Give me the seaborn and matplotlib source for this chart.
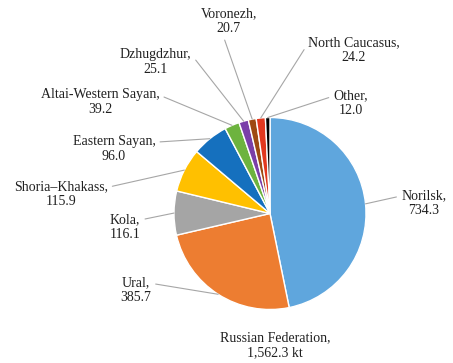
import numpy as np
import matplotlib
matplotlib.use("Agg")
import matplotlib.pyplot as plt
import seaborn as sns

# --- data (kt), clockwise from 12 o'clock ---
regions = ["Norilsk", "Ural", "Kola", "Shoria\u2013Khakass", "Eastern Sayan",
           "Altai-Western Sayan", "Dzhugdzhur", "Voronezh", "North Caucasus", "Other"]
values = [734.3, 385.7, 116.1, 115.9, 96.0, 39.2, 25.1, 20.7, 24.2, 12.0]
total_label = "Russian Federation,\n1,562.3 kt"

colors = ["#5FA6DD", "#ED7D31", "#A5A5A5", "#FFC000", "#1570BE",
          "#6DB33F", "#7A3FA8", "#9E4A12", "#E2381F", "#000000"]

# --- layout: label centres (pie radius = 1) and where the leader leaves the text ---
label_pos = [(1.60, 0.11), (-1.40, -0.80), (-1.51, -0.14), (-2.18, 0.20),
             (-1.625, 0.67), (-1.77, 1.16), (-1.19, 1.58), (-0.43, 2.00),
             (0.875, 1.70), (0.84, 1.15)]
rel_pos = [(0, 0.75), (1, 0.75), (1, 0.75), (1, 0.75), (1, 0.75),
           (1, 0.75), (1, 0.75), (0.4, 0), (0, 0.75), (0, 0.75)]

sns.set_style("white")
plt.rcParams["font.family"] = ["Liberation Serif", "DejaVu Serif"]

W, H, dpi = 453, 363, 100
fig = plt.figure(figsize=(W / dpi, H / dpi), dpi=dpi)
ax = fig.add_axes([0, 0, 1, 1])

wedges, _ = ax.pie(
    values, colors=sns.color_palette(colors), startangle=90, counterclock=False,
    radius=1.0, wedgeprops=dict(edgecolor="white", linewidth=1.0),
)

for w, name, val, pos, rp in zip(wedges, regions, values, label_pos, rel_pos):
    mid = np.deg2rad((w.theta1 + w.theta2) / 2)
    ax.annotate(
        f"{name},\n{val:.1f}", xy=(np.cos(mid), np.sin(mid)), xytext=pos,
        ha="center", va="center", multialignment="center",
        fontsize=10, color="#202020", linespacing=1.2,
        arrowprops=dict(arrowstyle="-", color="#a6a6a6", lw=0.8,
                        shrinkA=1, shrinkB=0, relpos=rp),
    )

ax.text(0.05, -1.37, total_label, ha="center", va="center",
        multialignment="center", fontsize=10, color="#202020", linespacing=1.2)

# map axes so that pie centre sits at (270, 213.5) px with radius 96 px
cx, cy, r = 270, 213.5, 96
ax.set_xlim(-cx / r, (W - cx) / r)
ax.set_ylim(-(H - cy) / r, cy / r)
ax.set_aspect("auto")
ax.axis("off")

fig.savefig("out.png", dpi=dpi, facecolor="white")
plt.close(fig)
